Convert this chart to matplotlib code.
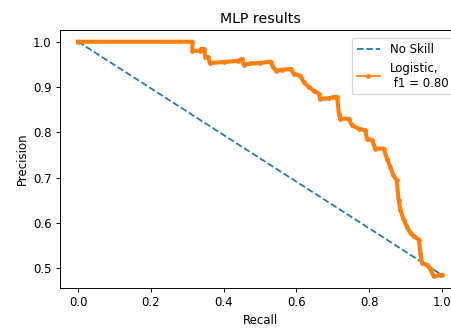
import numpy as np
import matplotlib
matplotlib.use("Agg")
import matplotlib.pyplot as plt

# no skill reference line
ns_recall = [0.0, 1.0]
ns_precision = [1.0, 0.485]

# precision-recall curve
recall = [0.0, 0.314, 0.314, 0.335, 0.338, 0.346, 0.350, 0.358, 0.362, 0.40,
          0.44, 0.451, 0.455, 0.475, 0.50, 0.529, 0.536, 0.545, 0.560, 0.584,
          0.593, 0.611, 0.620, 0.634, 0.648, 0.662, 0.666, 0.690, 0.703, 0.712,
          0.717, 0.721, 0.744, 0.753, 0.772, 0.790, 0.794, 0.808, 0.817, 0.840,
          0.849, 0.858, 0.867, 0.876, 0.881, 0.886, 0.895, 0.904, 0.914, 0.923,
          0.937, 0.941, 0.946, 0.960, 0.969, 0.978, 0.996, 1.0]
precision = [1.0, 1.0, 0.980, 0.980, 0.984, 0.984, 0.966, 0.966, 0.953, 0.955,
             0.958, 0.962, 0.949, 0.952, 0.953, 0.956, 0.944, 0.936, 0.938, 0.940,
             0.929, 0.925, 0.911, 0.900, 0.892, 0.885, 0.874, 0.875, 0.878, 0.878,
             0.841, 0.830, 0.830, 0.815, 0.808, 0.804, 0.786, 0.783, 0.764, 0.764,
             0.742, 0.724, 0.705, 0.694, 0.651, 0.629, 0.607, 0.591, 0.577, 0.570,
             0.563, 0.533, 0.511, 0.507, 0.497, 0.482, 0.485, 0.485]

DPI = 85
fig = plt.figure(figsize=(451 / DPI, 328 / DPI), dpi=DPI)
# the original picture is cut off on the right, so the axes run past the edge
ax = fig.add_axes([60 / 451, 40 / 328, 400 / 451, 258 / 328])

ax.plot(ns_recall, ns_precision, linestyle='--', label='No Skill')
ax.plot(recall, precision, color='C1', linewidth=3.5, solid_joinstyle='round')
ax.plot(recall, precision, marker='.', color='C1', label='Logistic,\n f1 = 0.80')

ax.set_xticks([0.0, 0.2, 0.4, 0.6, 0.8, 1.0])
ax.set_xlabel('Recall')
ax.set_ylabel('Precision')
ax.set_title('MLP results')
ax.legend(loc='upper right', bbox_to_anchor=(453 / 451, 1 - 38 / 328),
          bbox_transform=fig.transFigure, borderaxespad=0)

fig.savefig('out.png', dpi=DPI)
